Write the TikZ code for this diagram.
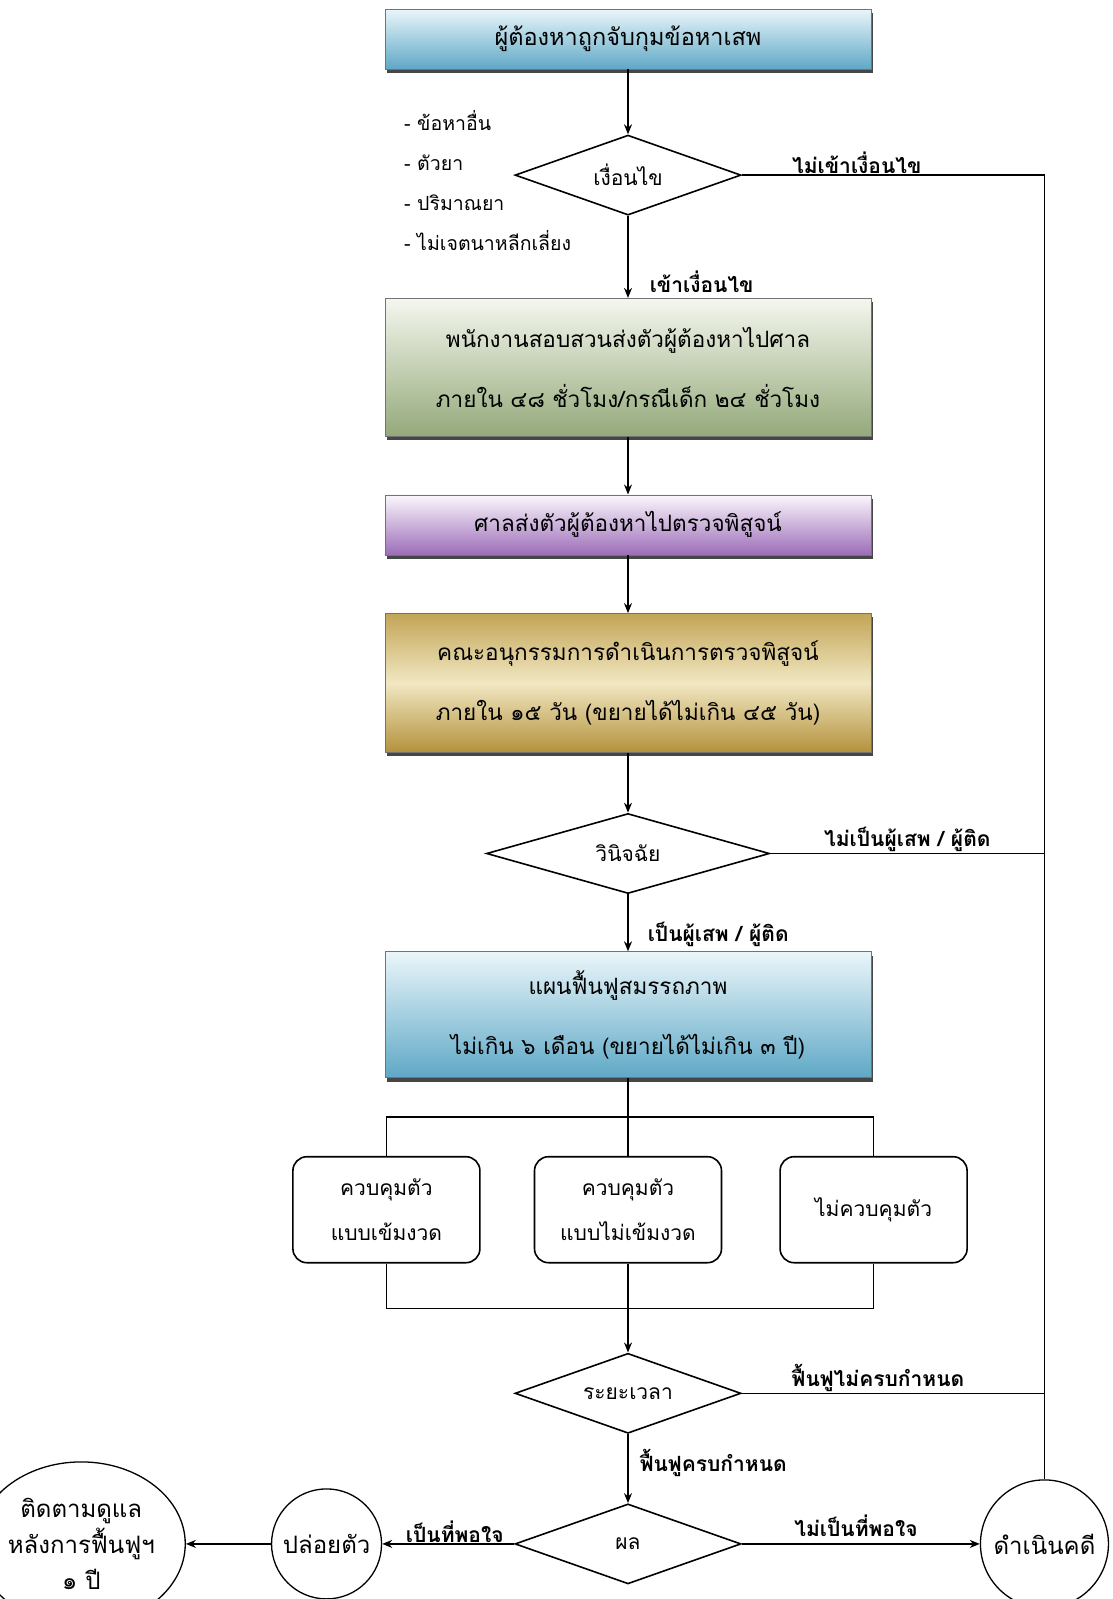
\documentclass[tikz,border=0pt]{standalone}
\usepackage{fontspec}
\newfontfamily\thaifont[Script=Thai]{Loma}
\usetikzlibrary{arrows.meta,positioning,shapes.geometric,shadows}

\definecolor{blueT}{HTML}{EAF6FA}
\definecolor{blueB}{HTML}{5FA8C6}
\definecolor{greenT}{HTML}{F5F7EF}
\definecolor{greenB}{HTML}{94A97A}
\definecolor{purpleT}{HTML}{FBF7FC}
\definecolor{purpleB}{HTML}{9C6DB8}
\definecolor{goldT}{HTML}{C2A556}
\definecolor{goldM}{HTML}{F1E7C2}
\definecolor{goldB}{HTML}{B3923C}

\begin{document}
\begin{tikzpicture}[
  x=1pt, y=-1pt,
  >={Stealth[length=10pt,width=8pt]},
  font=\thaifont\fontsize{22.5}{60}\selectfont,
  stagebox/.style={draw=black!55, line width=0.6pt, align=center, minimum width=486pt, inner sep=0pt,
    drop shadow={shadow xshift=1.5pt, shadow yshift=-4pt, fill=black!85, opacity=0.85}},
  bluebox/.style={stagebox, top color=blueT, bottom color=blueB},
  greenbox/.style={stagebox, top color=greenT, bottom color=greenB},
  purplebox/.style={stagebox, top color=purpleT, bottom color=purpleB},
  goldbox/.style={stagebox, top color=goldT, bottom color=goldB, middle color=goldM},
  decision/.style={diamond, aspect=3, draw, line width=1.6pt, minimum width=226pt, minimum height=80pt,
    inner sep=0pt, font=\thaifont\fontsize{21}{24}\selectfont},
  controlbox/.style={draw, line width=1.6pt, rounded corners=14pt, align=center, minimum width=187pt,
    minimum height=106pt, font=\thaifont\fontsize{21}{45}\selectfont},
  endpoint/.style={draw, line width=1.3pt, align=center, inner sep=0pt, font=\thaifont\fontsize{24}{36}\selectfont},
  listtext/.style={align=left, inner sep=0pt, font=\thaifont\fontsize{19.5}{40}\selectfont},
  flow/.style={->, line width=1.6pt},
  link/.style={line width=1.3pt},
  tag/.style={inner sep=1pt, font=\thaifont\bfseries\fontsize{21}{22}\selectfont}
]
  \useasboundingbox (0,0) rectangle (1113,1599);

  % main column
  \node[bluebox, minimum height=60pt, font=\thaifont\fontsize{23.5}{60}\selectfont] (arrest) at (628,39) {ผู้ต้องหาถูกจับกุมข้อหาเสพ};
  \node[decision, below=65pt of arrest] (cond) {เงื่อนไข};
  \node[greenbox, minimum height=138pt, below=82pt of cond] (inquiry) {พนักงานสอบสวนส่งตัวผู้ต้องหาไปศาล\\ภายใน ๔๘ ชั่วโมง/กรณีเด็ก ๒๔ ชั่วโมง};
  \node[purplebox, minimum height=60pt, below=58pt of inquiry] (court) {ศาลส่งตัวผู้ต้องหาไปตรวจพิสูจน์};
  \node[goldbox, minimum height=139pt, below=58pt of court] (panel) {คณะอนุกรรมการดำเนินการตรวจพิสูจน์\\ภายใน ๑๕ วัน (ขยายได้ไม่เกิน ๔๕ วัน)};
  \node[decision, minimum width=283pt, below=60pt of panel] (judge) {วินิจฉัย};
  \node[bluebox, minimum height=126pt, below=57pt of judge] (plan) {แผนฟื้นฟูสมรรถภาพ\\ไม่เกิน ๖ เดือน (ขยายได้ไม่เกิน ๓ ปี)};

  % control options
  \node[controlbox, below=78pt of plan] (loose) {ควบคุมตัว\\แบบไม่เข้มงวด};
  \node[controlbox, left=53pt of loose] (strict) {ควบคุมตัว\\แบบเข้มงวด};
  \node[controlbox, right=57pt of loose] (free) {ไม่ควบคุมตัว};

  \node[decision, below=89pt of loose] (period) {ระยะเวลา};
  \node[decision, below=69pt of period] (result) {ผล};

  % end points
  \node[endpoint, circle, minimum size=110pt, left=132pt of result] (release) {ปล่อยตัว};
  \node[endpoint, ellipse, minimum width=176pt, minimum height=164pt, left=85pt of release] (follow) {ติดตามดูแล\\หลังการฟื้นฟูฯ\\๑ ปี};
  \node[endpoint, circle, minimum size=128pt, right=238pt of result] (case) {ดำเนินคดี};

  \node[listtext, anchor=west] (reasons) at (404,181) {- ข้อหาอื่น\\- ตัวยา\\- ปริมาณยา\\- ไม่เจตนาหลีกเลี่ยง};

  \coordinate[below=39pt of plan] (split);
  \coordinate[below=45pt of loose] (merge);

  \draw[flow] (arrest) -- (cond);
  \draw[flow] (cond) -- node[tag, pos=.8, right=20pt] {เข้าเงื่อนไข} (inquiry);
  \draw[flow] (inquiry) -- (court);
  \draw[flow] (court) -- (panel);
  \draw[flow] (panel) -- (judge);
  \draw[flow] (judge) -- node[tag, pos=.7, right=18pt] {เป็นผู้เสพ / ผู้ติด} (plan);

  \draw[link] (plan) -- (split);
  \draw[link] (strict.north) |- (split) -| (free.north);
  \draw[link] (split) -- (loose);
  \draw[link] (strict.south) |- (merge) -| (free.south);
  \draw[link] (loose) -- (merge);
  \draw[flow] (merge) -- (period);

  \draw[link] (cond.east) -| node[tag, pos=.19, above] {ไม่เข้าเงื่อนไข} (case.north);
  \draw[link] (judge.east) -- node[tag, pos=.5, above] {ไม่เป็นผู้เสพ / ผู้ติด} (judge.east -| case.north);
  \draw[link] (period.east) -- node[tag, pos=.45, above] {ฟื้นฟูไม่ครบกำหนด} (period.east -| case.north);

  \draw[flow] (period) -- node[tag, pos=.42, right=10pt] {ฟื้นฟูครบกำหนด} (result);
  \draw[flow] (result) -- node[tag, pos=.48, above=6pt] {ไม่เป็นที่พอใจ} (case);
  \draw[flow] (result) -- node[tag, pos=.45, above] {เป็นที่พอใจ} (release);
  \draw[flow] (release) -- (follow);
\end{tikzpicture}
\end{document}
